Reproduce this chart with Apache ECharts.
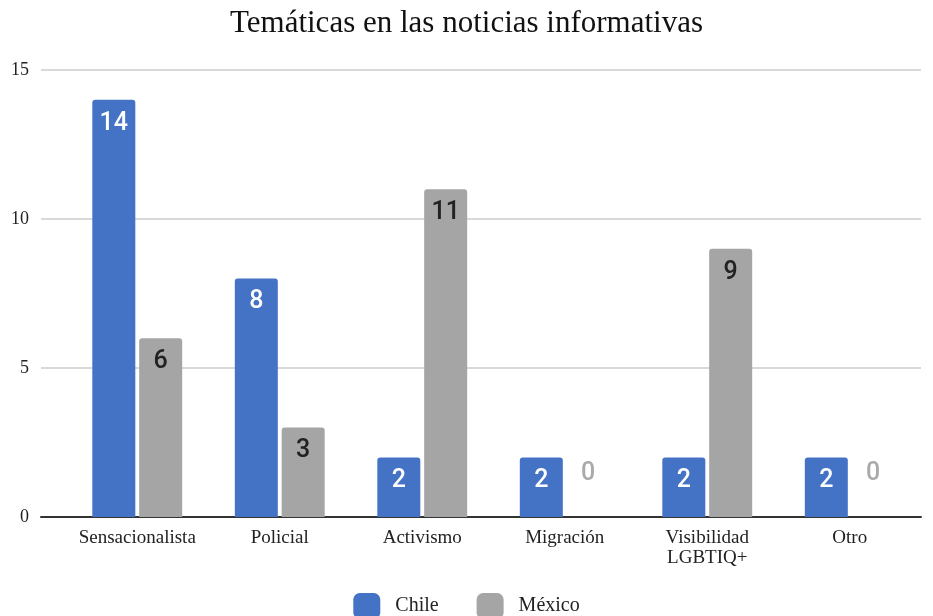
<!DOCTYPE html>
<html>
<head>
<meta charset="utf-8">
<script src="https://cdn.jsdelivr.net/npm/echarts@6/dist/echarts.min.js"></script>
<style>
  html, body { margin: 0; padding: 0; background: #fff; }
  #chart { width: 933px; height: 616px; }
</style>
</head>
<body>
<div id="chart"></div>
<script>
'use strict'

const categories = ['Sensacionalista', 'Policial', 'Activismo', 'Migración', 'Visibilidad\nLGBTIQ+', 'Otro'];
const chile = [14, 8, 2, 2, 2, 2];
const mexico = [6, 3, 11, 0, 9, 0];
const yTicks = [0, 5, 10, 15];

const serif = '"Liberation Serif", "Times New Roman", serif';

// zero values get a grey label floating above the axis
function toItems(values, colour)
{
    return values.map(v => {
        if (v === 0) {
            return {
                value: v,
                label: { position: 'top', distance: 31, color: '#aaaaaa' }
            };
        }
        return { value: v, label: { color: colour } };
    });
}

const chart = echarts.init(document.getElementById('chart'));
const option = {
    animation: false,
    title: {
        text: 'Temáticas en las noticias informativas',
        left: 'center',
        top: 3,
        textStyle: { fontFamily: serif, fontSize: 31, fontWeight: 'normal', color: '#111' }
    },
    legend: {
        top: 588,
        left: 'center',
        itemWidth: 27,
        itemHeight: 26,
        itemGap: 38,
        icon: 'roundRect',
        textStyle: { fontFamily: serif, fontSize: 20, color: '#222', padding: [0, 0, 0, 10] },
        data: ['Chile', 'México']
    },
    grid: [
        { left: 41, right: 12, top: 70, bottom: 99 },
        { left: 66, right: 12, top: 70, bottom: 99 }
    ],
    xAxis: [
        {
            gridIndex: 0,
            type: 'value',
            min: 0,
            max: 1,
            axisLine: { show: true, onZero: false, lineStyle: { color: '#333', width: 2 } },
            axisTick: { show: false },
            axisLabel: { show: false },
            splitLine: { show: false }
        },
        {
            gridIndex: 1,
            type: 'category',
            data: categories,
            axisTick: { show: false },
            axisLine: { show: false },
            axisLabel: { fontFamily: serif, fontSize: 19, color: '#222', margin: 11, lineHeight: 20, interval: 0 }
        }
    ],
    yAxis: [
        {
            gridIndex: 0,
            type: 'value',
            min: yTicks[0],
            max: yTicks[yTicks.length - 1],
            interval: 5,
            axisLine: { show: false },
            axisTick: { show: false },
            axisLabel: { fontFamily: serif, fontSize: 18, color: '#222', margin: 12 },
            splitLine: { lineStyle: { color: '#cccccc', width: 1.5 } }
        },
        {
            gridIndex: 1,
            type: 'value',
            min: yTicks[0],
            max: yTicks[yTicks.length - 1],
            interval: 5,
            show: false,
            splitLine: { show: false }
        }
    ],
    series: [
        {
            name: 'Chile',
            type: 'bar',
            xAxisIndex: 1,
            yAxisIndex: 1,
            data: toItems(chile, '#ffffff'),
            barWidth: 43,
            barGap: '9%',
            itemStyle: { color: '#4472c4', borderRadius: [3, 3, 0, 0] },
            label: {
                show: true,
                position: 'insideTop',
                distance: 11,
                fontFamily: 'Roboto, sans-serif',
                fontSize: 25,
                fontWeight: 500
            }
        },
        {
            name: 'México',
            type: 'bar',
            xAxisIndex: 1,
            yAxisIndex: 1,
            data: toItems(mexico, '#222222'),
            barWidth: 43,
            itemStyle: { color: '#a5a5a5', borderRadius: [3, 3, 0, 0] },
            label: {
                show: true,
                position: 'insideTop',
                distance: 11,
                fontFamily: 'Roboto, sans-serif',
                fontSize: 25,
                fontWeight: 500
            }
        }
    ]
};
chart.setOption(option);
</script>
</body>
</html>
